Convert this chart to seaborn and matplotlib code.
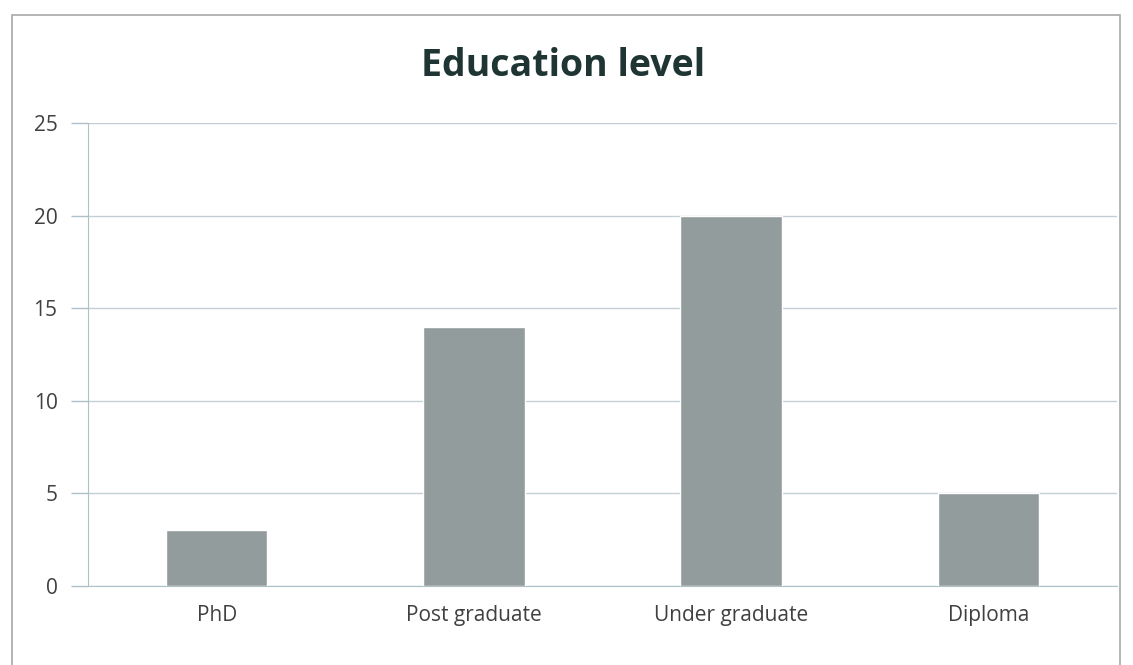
import matplotlib
matplotlib.use("Agg")
import matplotlib.pyplot as plt
import seaborn as sns
import pandas as pd
from matplotlib.patches import Rectangle

categories = ["PhD", "Post graduate", "Under graduate", "Diploma"]
values = [3, 14, 20, 5]
yticks = [0, 5, 10, 15, 20, 25]
title = "Education level"

sns.set_style("white")
plt.rcParams['font.family'] = ['Open Sans', 'DejaVu Sans']

df = pd.DataFrame({"level": categories, "count": values})

fig = plt.figure(figsize=(11.33, 6.65), dpi=100)
ax = fig.add_axes([0.0777, 0.1188, 0.9083, 0.6962])

sns.barplot(data=df, x="level", y="count", color="#939c9c", saturation=1,
            width=0.395, ax=ax, zorder=3)

ax.set_xlim(-0.5, 3.5)
ax.set_ylim(0, 25)
ax.set_yticks(yticks)
ax.set_yticklabels([str(t) for t in yticks], fontsize=15, color="#404040")
ax.set_xticks(range(len(categories)))
ax.set_xticklabels(categories, fontsize=15, color="#404040")
ax.tick_params(axis="x", length=0, pad=14)
ax.tick_params(axis="y", length=12, width=1, color="#b0c0c8", pad=10, direction="out", left=True)
ax.set_xlabel("")
ax.set_ylabel("")
ax.yaxis.grid(True, color="#c2d0d6", linewidth=1, zorder=0)
ax.set_axisbelow(True)
for s in ["top", "right"]:
    ax.spines[s].set_visible(False)
ax.spines["left"].set_color("#b0c0c8")
ax.spines["bottom"].set_color("#b0c0c8")

fig.text(0.497, 0.9, title, ha="center", va="center", fontsize=27,
         fontweight="bold", color="#1e3533")

fig.patches.append(Rectangle((12/1133, -0.01), (1120-12)/1133, 1 - 15/665 + 0.01,
                             transform=fig.transFigure, fill=False,
                             edgecolor="#a8a8a8", linewidth=1.2))

fig.savefig("out.png", dpi=100)
